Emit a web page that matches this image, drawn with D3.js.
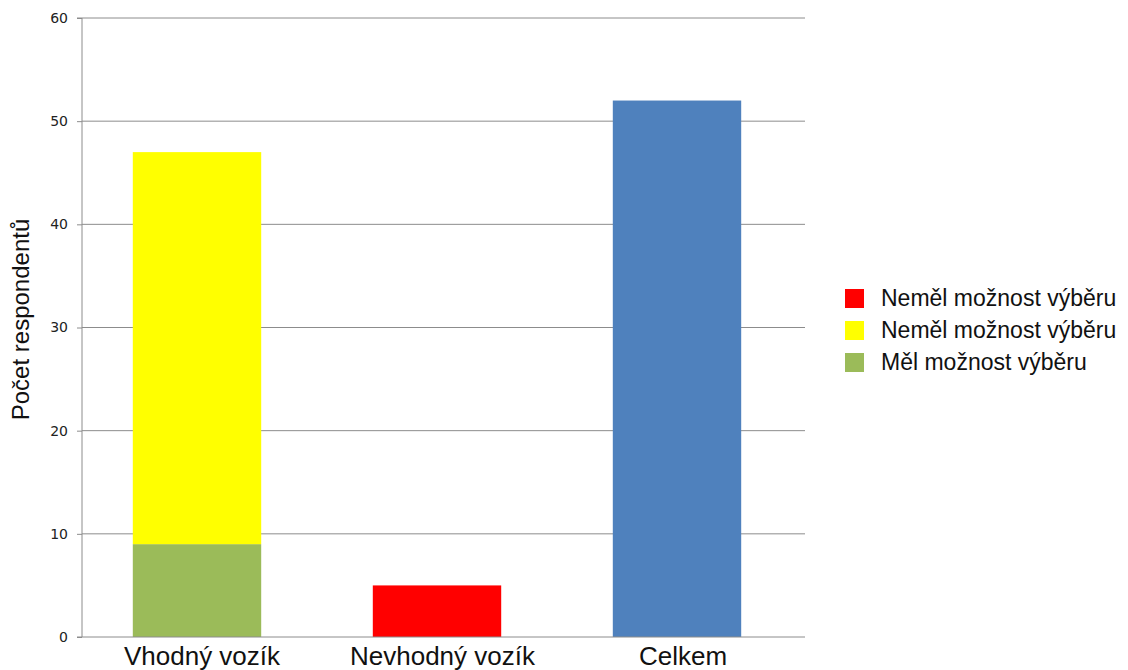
<!DOCTYPE html>
<html>
<head>
<meta charset="utf-8">
<script src="https://cdn.jsdelivr.net/npm/d3@7"></script>
<style>
    body { margin: 0; background: #fff; }
    svg { display: block; font-family: 'Liberation Sans', Arial, sans-serif; }
</style>
</head>
<body>
<div class="chart-container"></div>
<script>
const categories = ['Vhodný vozík', 'Nevhodný vozík', 'Celkem']
// stacked from bottom to top
const melVyber = [9, 0, 0]
const nemelVyberVhodny = [38, 0, 0]
const nemelVyberNevhodny = [0, 5, 0]
const celkem = [0, 0, 52]
const yTicks = [0, 10, 20, 30, 40, 50, 60]

const seriesKeys = ['mel', 'nemelV', 'nemelN', 'celkem']
const seriesColor = {
    mel: '#9bbb59',
    nemelV: '#ffff00',
    nemelN: '#ff0000',
    celkem: '#4f81bd'
}
const legendItems = [
    { key: 'nemelN', label: 'Neměl možnost výběru' },
    { key: 'nemelV', label: 'Neměl možnost výběru' },
    { key: 'mel', label: 'Měl možnost výběru' }
]

const width = 1128
const height = 670
const plot = { left: 82, right: 805, top: 18, bottom: 637 }

const table = categories.map((c, i) => ({
    category: c,
    mel: melVyber[i],
    nemelV: nemelVyberVhodny[i],
    nemelN: nemelVyberNevhodny[i],
    celkem: celkem[i]
}))

const svg = d3
    .select('.chart-container')
    .append('svg')
    .attr('width', width)
    .attr('height', height)

const y = d3.scaleLinear().domain([0, 60]).range([plot.bottom, plot.top])
const x = d3
    .scaleBand()
    .domain(categories)
    .range([77, 797])
    .paddingInner(0.465)
    .paddingOuter(0.2325)

// gridlines
svg.append('g')
    .selectAll('line')
    .data(yTicks.filter(t => t > 0))
    .enter()
    .append('line')
    .attr('x1', plot.left)
    .attr('x2', plot.right)
    .attr('y1', d => y(d))
    .attr('y2', d => y(d))
    .attr('stroke', '#8c8c8c')
    .attr('stroke-width', 1)

// bars
const stacked = d3.stack().keys(seriesKeys)(table)
svg.append('g')
    .selectAll('g')
    .data(stacked)
    .enter()
    .append('g')
    .attr('fill', d => seriesColor[d.key])
    .selectAll('rect')
    .data(d => d.filter(s => s[1] - s[0] > 0))
    .enter()
    .append('rect')
    .attr('x', d => x(d.data.category))
    .attr('width', x.bandwidth())
    .attr('y', d => y(d[1]))
    .attr('height', d => y(d[0]) - y(d[1]))

// y axis
const yAxis = svg
    .append('g')
    .attr('transform', `translate(${plot.left},0)`)
    .call(d3.axisLeft(y).tickValues(yTicks).tickSize(5).tickPadding(9))
yAxis.select('.domain').attr('stroke', '#8c8c8c').attr('d', `M-5,${plot.bottom}H0V${plot.top}H-5`)
yAxis.selectAll('.tick line').attr('stroke', '#8c8c8c')
yAxis.selectAll('.tick text')
    .attr('fill', '#222')
    .style('font-size', '14px')
    .style('font-family', "'DejaVu Sans', sans-serif")

// x axis line
svg.append('line')
    .attr('x1', plot.left)
    .attr('x2', plot.right)
    .attr('y1', plot.bottom)
    .attr('y2', plot.bottom)
    .attr('stroke', '#8c8c8c')

// category labels
const xLabelPos = d3.scalePoint().domain(categories).range([202, 683])
svg.append('g')
    .selectAll('text')
    .data(categories)
    .enter()
    .append('text')
    .attr('x', d => xLabelPos(d))
    .attr('y', 665)
    .attr('text-anchor', 'middle')
    .style('font-size', '26px')
    .attr('fill', '#111')
    .text(d => d)

// y title
svg.append('text')
    .attr('transform', `translate(29,${(plot.top + plot.bottom) / 2 - 8}) rotate(-90)`)
    .attr('text-anchor', 'middle')
    .style('font-size', '24px')
    .attr('fill', '#111')
    .text('Počet respondentů')

// legend
const legend = svg
    .append('g')
    .attr('transform', 'translate(845,289)')
    .selectAll('g')
    .data(legendItems)
    .enter()
    .append('g')
    .attr('transform', (d, i) => `translate(0,${i * 32})`)

legend.append('rect')
    .attr('width', 19)
    .attr('height', 19)
    .attr('fill', d => seriesColor[d.key])

legend.append('text')
    .attr('x', 36)
    .attr('y', 17)
    .style('font-size', '23px')
    .attr('fill', '#111')
    .text(d => d.label)
</script>
</body>
</html>
